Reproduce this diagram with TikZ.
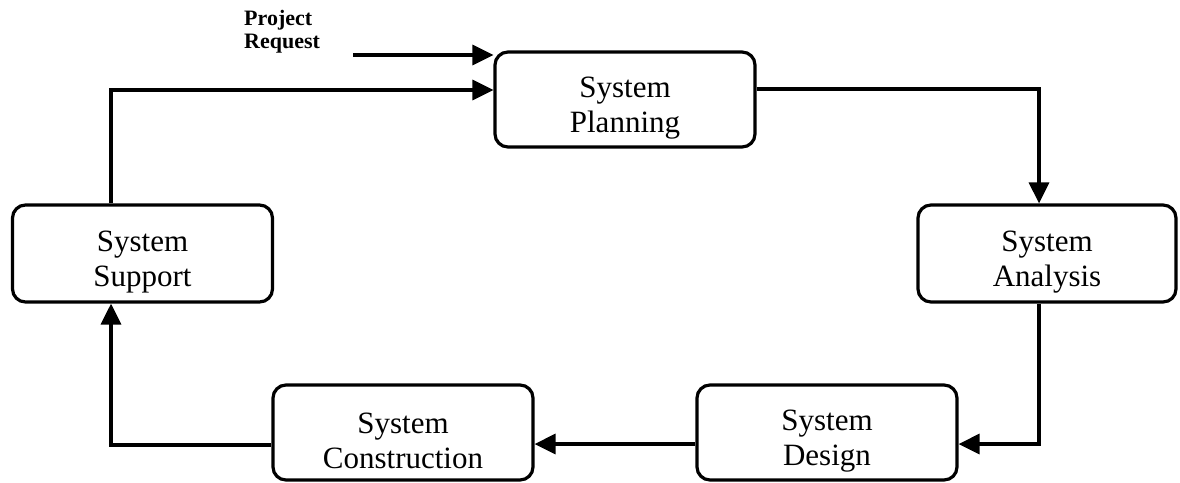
\documentclass[tikz,border=0pt]{standalone}
\usepackage{fontspec}
\setmainfont{Liberation Serif}
\usetikzlibrary{arrows.meta}
% invisible strut that lowers the two text lines inside a phase box
\newcommand\phasestrut{\rule{0pt}{37pt}}
\begin{document}
\begin{tikzpicture}[x=1pt,y=-1pt,
  phase/.style={draw,line width=3.2pt,rounded corners=13pt,minimum width=260pt,
    minimum height=95pt,align=center,inner sep=0pt,
    font=\fontsize{31}{35}\selectfont},
  flow/.style={line width=3.2pt,-{Triangle[length=21pt,width=20pt]}}]
\useasboundingbox (0,0) rectangle (1180,482);
% the five phases of the cycle
\node[phase] (plan) at (625,99.5) {\phasestrut System\\Planning};
\node[phase,minimum width=258pt,minimum height=97pt] (an) at (1047,253.5) {\phasestrut System\\Analysis};
\node[phase,minimum width=260pt,minimum height=97pt] (sup) at (142.5,253.5) {\phasestrut System\\Support};
\node[phase] (con) at (403,432.5) {\phasestrut System\\Construction};
\node[phase] (des) at (827,432.5) {\phasestrut System\\Design};
% external input
\node[anchor=north west,align=left,inner sep=0pt,
  font=\fontsize{22}{23}\selectfont\bfseries] (req) at (244,10) {Project\\Request};
% routing points of the connectors
\coordinate (rq) at (353,55);
\coordinate (pa) at (1039,89);
\coordinate (ad) at (1039,444);
\coordinate (cs) at (111,445);
\coordinate (sl) at (111,90);
\draw[flow] (rq) -- (plan.west |- rq);
\draw[flow] (plan.east |- pa) -| (an.north -| pa);
\draw[flow] (an.south -| ad) |- (des.east |- ad);
\draw[flow] (des.west |- ad) -- (con.east |- ad);
\draw[flow] (con.west |- cs) -| (sup.south -| cs);
\draw[flow] (sup.north -| sl) |- (plan.west |- sl);
\end{tikzpicture}
\end{document}
